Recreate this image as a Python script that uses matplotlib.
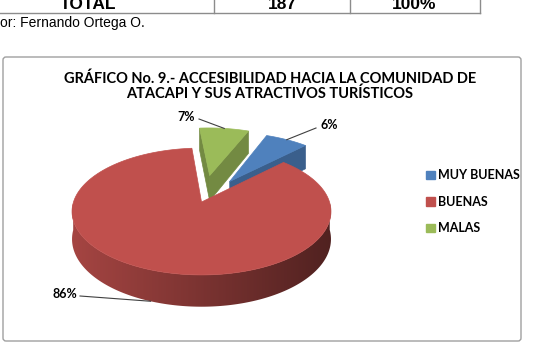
import numpy as np
import matplotlib.pyplot as plt
from matplotlib.patches import Polygon, FancyBboxPatch, Patch
from matplotlib.colors import to_rgb

# datos
categorias = ['MUY BUENAS', 'BUENAS', 'MALAS']
frecuencias = [12, 161, 14]
etiquetas = ['6%', '86%', '7%']
colores = ['#4F81BD', '#C0504D', '#9BBB59']
separacion = [0.42, 0.0, 0.46]

fila_total = ['TOTAL', '187', '100%']
fuente = 'or: Fernando Ortega O.'
titulo = 'GRÁFICO No. 9.- ACCESIBILIDAD HACIA LA COMUNIDAD DE\nATACAPI Y SUS ATRACTIVOS TURÍSTICOS'

fig = plt.figure(figsize=(5.39, 3.47), dpi=100)
ax = fig.add_axes([0, 0, 1, 1])
ax.set_xlim(0, 539)
ax.set_ylim(347, 0)
ax.axis('off')

# trozo de tabla arriba
gris = '#8c8c8c'
ax.plot([0, 480], [13, 13], color=gris, lw=1)
for xv in [214, 350, 480]:
    ax.plot([xv, xv], [-2, 13], color=gris, lw=1)
for xt, s in zip([88, 282, 414], fila_total):
    ax.text(xt, 9, s, ha='center', va='baseline', fontsize=12.5,
            fontweight='bold', family='Liberation Sans')
ax.text(0, 27, fuente, ha='left', va='baseline', fontsize=10, family='Liberation Sans')

# marco del grafico
marco = FancyBboxPatch((3, 57), 518, 284, boxstyle='round,pad=0,rounding_size=3',
                       fc='white', ec='#a0a0a0', lw=1)
ax.add_patch(marco)

ax.text(270, 86.5, titulo, ha='center', va='center', fontsize=10.5,
        fontweight='bold', family='Lato', linespacing=1.05)

# pastel 3d con perspectiva simple
cx, cy, rx, ry, prof, q = 201.5, 202, 128, 62, 27, 0.15
inicio = 68.0


def proy(u, v, z=0.0):
    den = 1 + q * v
    return cx + rx * u / den, cy - ry * v / den + z / den


def oscuro(c, f):
    r, g, b = to_rgb(c)
    return (r * f, g * f, b * f)


total = sum(frecuencias)
acum = np.concatenate([[0], np.cumsum(frecuencias)]) * 360.0 / total
porciones = []
for i in range(len(frecuencias)):
    t2 = inicio - acum[i]
    t1 = inicio - acum[i + 1]
    tm = np.radians((t1 + t2) / 2)
    du, dv = separacion[i] * np.cos(tm), separacion[i] * np.sin(tm)
    porciones.append((i, t1, t2, du, dv))

porciones.sort(key=lambda p: -np.sin(np.radians((p[1] + p[2]) / 2)))

for i, t1, t2, du, dv in porciones:
    col = colores[i]
    ts = np.radians(np.linspace(t1, t2, 300))
    # lado exterior (solo la parte de delante) con degradado
    frente = ts[np.sin(ts) <= 0]
    if len(frente) > 1:
        arr = [proy(np.cos(t) + du, np.sin(t) + dv) for t in frente]
        aba = [proy(np.cos(t) + du, np.sin(t) + dv, prof) for t in frente[::-1]]
        lado = Polygon(arr + aba, closed=True, fc='none', ec='none')
        ax.add_patch(lado)
        f = np.linspace(0.86, 0.42, 256)
        grad = np.array([[oscuro(col, k) for k in f]])
        xs = [p[0] for p in arr + aba]
        ys = [p[1] for p in arr + aba]
        im = ax.imshow(grad, extent=[min(xs), max(xs), max(ys), min(ys)],
                       aspect='auto', interpolation='bilinear', zorder=1)
        im.set_clip_path(lado)
    # caras radiales
    c0 = proy(du, dv)
    c0b = proy(du, dv, prof)
    for t, nrm in [(t1, t1 - 90), (t2, t2 + 90)]:
        if np.sin(np.radians(nrm)) < 0:
            tr = np.radians(t)
            pe = proy(np.cos(tr) + du, np.sin(tr) + dv)
            peb = proy(np.cos(tr) + du, np.sin(tr) + dv, prof)
            ax.add_patch(Polygon([c0, pe, peb, c0b], closed=True, fc=oscuro(col, 0.74),
                                 ec=oscuro(col, 0.74), lw=0.5, zorder=1))
    # cara superior
    arco = [proy(np.cos(t) + du, np.sin(t) + dv) for t in ts]
    ax.add_patch(Polygon([c0] + arco, closed=True, fc=col, ec=col, lw=0.5, zorder=1))

# etiquetas con lineas guia
pos_etq = {0: (329, 125), 1: (65, 294), 2: (186, 117)}
guia = {0: (316, 128), 1: (80, 296), 2: (199, 119)}
for i, t1, t2, du, dv in porciones:
    tm = np.radians((t1 + t2) / 2)
    z = 0
    if i == 1:
        tm = np.radians(-110)
        z = prof
    pe = proy(np.cos(tm) + du, np.sin(tm) + dv, z)
    xs, ys = guia[i]
    ax.plot([xs, pe[0]], [ys, pe[1]], color='#404040', lw=0.8, zorder=2)
    ax.text(*pos_etq[i], etiquetas[i], ha='center', va='center', fontsize=9,
            fontweight='bold', family='Lato', zorder=3)

manejadores = [Patch(fc=c, ec=c) for c in colores]
ax.legend(manejadores, categorias, loc='upper left', bbox_to_anchor=(415 / 539, 1 - 158 / 347),
          frameon=False, handlelength=0.7, handleheight=0.7, handletextpad=0.25,
          labelspacing=1.16, prop={'family': 'Lato', 'weight': 'bold', 'size': 9})

fig.savefig('out.png', dpi=100)
